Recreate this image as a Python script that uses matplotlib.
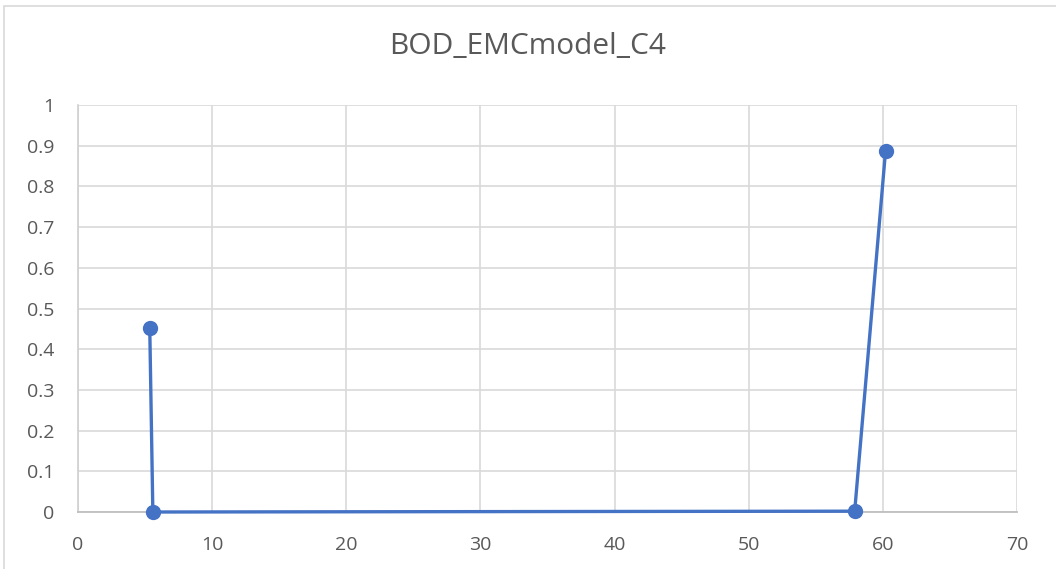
import matplotlib
matplotlib.use("Agg")
import matplotlib.pyplot as plt
from matplotlib.patches import Rectangle

# data
x_vals = [5.35, 5.58, 57.9, 60.2]
y_vals = [0.451, 0.0, 0.002, 0.887]
x_ticks = [0, 10, 20, 30, 40, 50, 60, 70]
y_ticks = [0, 0.1, 0.2, 0.3, 0.4, 0.5, 0.6, 0.7, 0.8, 0.9, 1]
y_labels = ["0", "0.1", "0.2", "0.3", "0.4", "0.5", "0.6", "0.7", "0.8", "0.9", "1"]
title = "BOD_EMCmodel_C4"

plt.rcParams['font.family'] = ['Open Sans', 'DejaVu Sans']

fig = plt.figure(figsize=(10.56, 5.69), dpi=100)
ax = fig.add_axes([78 / 1056, 1 - 512 / 569, (1017 - 78) / 1056, (512 - 105) / 569])

# chart border
fig.patches.append(Rectangle((4 / 1056, -0.01), 1.02, 1 - 6 / 569 + 0.01,
                             transform=fig.transFigure, fill=False,
                             edgecolor="#d9d9d9", linewidth=1.2))

ax.plot(x_vals, y_vals, color="#4472c4", linewidth=2.4, marker="o",
        markersize=10, zorder=3, clip_on=False)

ax.set_xlim(0, 70)
ax.set_ylim(0, 1)
ax.set_xticks(x_ticks)
ax.set_yticks(y_ticks)
ax.set_yticklabels(y_labels)
ax.grid(True, color="#d9d9d9", linewidth=1.2)
ax.set_axisbelow(True)
for s in ["top", "right"]:
    ax.spines[s].set_visible(False)
ax.spines["left"].set_color("#d0d0d0")
ax.spines["left"].set_linewidth(1.2)
ax.spines["bottom"].set_color("#bfbfbf")
ax.spines["bottom"].set_linewidth(1.3)
ax.tick_params(length=0, labelsize=14, labelcolor="#595959")
ax.tick_params(axis="x", pad=17)
ax.tick_params(axis="y", pad=17)

fig.text(0.5, 1 - 47 / 569, title, ha="center", va="center",
         fontsize=21.5, color="#595959")

fig.savefig("out.png", dpi=100)
